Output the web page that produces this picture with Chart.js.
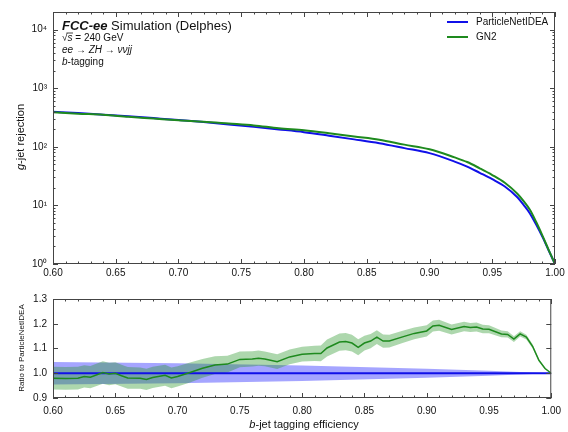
<!DOCTYPE html>
<html>
<head>
<meta charset="utf-8">
<script src="https://cdn.jsdelivr.net/npm/chart.js@4.4.1/dist/chart.umd.min.js"></script>
<style>
  html, body { margin: 0; padding: 0; background: #fff; }
  #wrap { position: relative; width: 568px; height: 432px; }
  canvas { position: absolute; left: 0; }
  #top { top: 0; }
  #bot { top: 285px; }
</style>
</head>
<body>
<div id="wrap">
  <canvas id="top" width="568" height="285"></canvas>
  <canvas id="bot" width="568" height="147"></canvas>
</div>
<script>
// rejection curves (upper panel)
const effTop = [0.60, 0.62, 0.64, 0.66, 0.68, 0.70, 0.72, 0.74, 0.76, 0.78, 0.80, 0.82, 0.84, 0.86,
  0.88, 0.90, 0.92, 0.93, 0.94, 0.95, 0.96, 0.97, 0.975, 0.98, 0.985, 0.99, 0.995, 1.00];
const pnRej = [398, 376, 353, 331, 309, 288, 264, 241, 219, 198, 178, 155, 134, 115,
  95, 78, 56, 46, 36, 28, 21, 13.8, 10.2, 7.3, 4.7, 2.9, 1.7, 1];
const gn2Rej = [390, 368, 353, 325, 304, 284, 269, 250, 232, 207, 192, 171, 150, 132,
  109, 91, 66, 55, 43, 33, 24.3, 15.8, 11.8, 8.4, 5.2, 3.05, 1.73, 1];

// ratio panel
const effRatio = [0.600, 0.610, 0.620, 0.625, 0.630, 0.640, 0.645, 0.650, 0.655, 0.660,
  0.670, 0.675, 0.680, 0.690, 0.695, 0.700, 0.710, 0.720, 0.730, 0.740,
  0.750, 0.760, 0.765, 0.770, 0.780, 0.790, 0.800, 0.810, 0.815, 0.820,
  0.830, 0.835, 0.840, 0.845, 0.850, 0.855, 0.860, 0.865, 0.870, 0.880,
  0.890, 0.900, 0.905, 0.910, 0.920, 0.930, 0.935, 0.940, 0.945, 0.950,
  0.960, 0.965, 0.970, 0.975, 0.980, 0.985, 0.990, 0.995, 1.000];
const gn2Ratio = [0.980, 0.979, 0.980, 0.987, 0.984, 1.003, 0.997, 1.000, 0.990, 0.981,
  0.980, 0.975, 0.983, 0.992, 0.981, 0.987, 1.003, 1.020, 1.033, 1.037,
  1.056, 1.058, 1.061, 1.058, 1.047, 1.066, 1.077, 1.080, 1.080, 1.102,
  1.126, 1.128, 1.122, 1.105, 1.122, 1.130, 1.146, 1.130, 1.130, 1.146,
  1.161, 1.171, 1.191, 1.194, 1.177, 1.189, 1.185, 1.187, 1.179, 1.178,
  1.159, 1.157, 1.138, 1.159, 1.146, 1.109, 1.053, 1.019, 1.000];
const gn2Err = [0.046, 0.046, 0.046, 0.045, 0.045, 0.045, 0.045, 0.044, 0.044, 0.044,
  0.043, 0.043, 0.043, 0.042, 0.042, 0.041, 0.040, 0.038, 0.036, 0.034,
  0.032, 0.031, 0.031, 0.030, 0.030, 0.030, 0.030, 0.031, 0.032, 0.034,
  0.035, 0.035, 0.034, 0.032, 0.030, 0.029, 0.028, 0.027, 0.026, 0.025,
  0.024, 0.023, 0.022, 0.022, 0.020, 0.019, 0.018, 0.018, 0.017, 0.016,
  0.014, 0.013, 0.012, 0.011, 0.010, 0.008, 0.006, 0.003, 0.000];
const effPN = [0.60, 0.70, 0.80, 0.90, 0.95, 1.00];
const pnRatio = [1.0, 1.0, 1.0, 1.0, 1.0, 1.0];
const pnErr = [0.045, 0.040, 0.031, 0.018, 0.010, 0.000];

// ticks
const xTicks = [0.60, 0.65, 0.70, 0.75, 0.80, 0.85, 0.90, 0.95, 1.00];
const xTickLabels = ["0.60", "0.65", "0.70", "0.75", "0.80", "0.85", "0.90", "0.95", "1.00"];
const rejTicks = [1, 10, 100, 1000, 10000];
const rejTickLabels = ["10\u2070", "10\u00b9", "10\u00b2", "10\u00b3", "10\u2074"];
const ratioTicks = [0.9, 1.0, 1.1, 1.2, 1.3];
const ratioTickLabels = ["0.9", "1.0", "1.1", "1.2", "1.3"];

const FONT = "'Liberation Sans', Arial, sans-serif";
const BLUE = "#1010e8";
const GREEN = "#1e8a1e";

function pts(xs, ys) { return xs.map((x, i) => ({ x: x, y: ys[i] })); }

function drawRich(ctx, parts, x, y) {
  parts.forEach(p => {
    ctx.font = p[1];
    ctx.fillText(p[0], x, y);
    x += ctx.measureText(p[0]).width;
  });
  return x;
}

// inward ticks on all four sides + frame, matplotlib style
function frameTicks(yMajor, yMinor) {
  return {
    id: "frameTicks",
    afterDatasetsDraw(chart) {
      const { ctx, chartArea: a, scales } = chart;
      ctx.save();
      ctx.strokeStyle = "#444";
      ctx.lineWidth = 1;
      const seg = (x1, y1, x2, y2) => { ctx.beginPath(); ctx.moveTo(x1, y1); ctx.lineTo(x2, y2); ctx.stroke(); };
      ctx.strokeRect(a.left + 0.5, a.top + 0.5, a.right - a.left - 1, a.bottom - a.top - 1);
      for (let k = 60; k <= 100; k++) {
        const px = Math.round(scales.x.getPixelForValue(k / 100)) + 0.5;
        const len = k % 5 === 0 ? 5 : 2.5;
        seg(px, a.bottom, px, a.bottom - len);
        seg(px, a.top, px, a.top + len);
      }
      const ys = scales.y;
      yMajor.forEach(v => {
        const py = Math.round(ys.getPixelForValue(v)) + 0.5;
        seg(a.left, py, a.left + 5, py);
        seg(a.right, py, a.right - 5, py);
      });
      yMinor.forEach(v => {
        const py = Math.round(ys.getPixelForValue(v)) + 0.5;
        seg(a.left, py, a.left + 2.5, py);
        seg(a.right, py, a.right - 2.5, py);
      });
      ctx.restore();
    }
  };
}

const logMinor = [];
for (let d = 1; d <= 10000; d *= 10) {
  for (let k = 2; k <= 9; k++) if (k * d <= 20000) logMinor.push(k * d);
}

const topDeco = {
  id: "topDeco",
  afterDraw(chart) {
    const ctx = chart.ctx;
    ctx.save();
    ctx.fillStyle = "#111";
    ctx.textBaseline = "middle";
    ctx.textAlign = "left";
    drawRich(ctx, [["FCC-ee", "italic bold 13px " + FONT], [" Simulation (Delphes)", "13px " + FONT]], 62, 26);
    // sqrt(s) line
    ctx.font = "10px " + FONT;
    let x = 62;
    ctx.fillText("\u221a", x, 38);
    x += ctx.measureText("\u221a").width;
    ctx.font = "italic 10px " + FONT;
    const sw = ctx.measureText("s").width;
    ctx.fillText("s", x, 38);
    ctx.strokeStyle = "#111";
    ctx.lineWidth = 0.8;
    ctx.beginPath(); ctx.moveTo(x - 1, 33); ctx.lineTo(x + sw + 0.5, 33); ctx.stroke();
    x += sw;
    ctx.font = "10px " + FONT;
    ctx.fillText(" = 240 GeV", x, 38);
    drawRich(ctx, [["ee", "italic 10px " + FONT], [" \u2192 ", "10px " + FONT], ["ZH", "italic 10px " + FONT],
      [" \u2192 ", "10px " + FONT], ["\u03bd\u03bdjj", "italic 10px " + FONT]], 62, 50);
    drawRich(ctx, [["b", "italic 10px " + FONT], ["-tagging", "10px " + FONT]], 62, 62);

    // legend
    const items = chart.data.datasets;
    items.forEach((ds, i) => {
      const y = 22 + i * 15;
      ctx.strokeStyle = ds.borderColor;
      ctx.lineWidth = 2;
      ctx.beginPath(); ctx.moveTo(447, y); ctx.lineTo(468, y); ctx.stroke();
      ctx.font = "10px " + FONT;
      ctx.fillStyle = "#111";
      ctx.fillText(ds.label, 476, y);
    });

    // y title
    ctx.translate(21, 137);
    ctx.rotate(-Math.PI / 2);
    ctx.textAlign = "left";
    ctx.font = "11px " + FONT;
    const w = ctx.measureText("g").width + ctx.measureText("-jet rejection").width;
    drawRich(ctx, [["g", "italic 11px " + FONT], ["-jet rejection", "11px " + FONT]], -w / 2, 0);
    ctx.restore();
  }
};

const botDeco = {
  id: "botDeco",
  afterDraw(chart) {
    const ctx = chart.ctx;
    ctx.save();
    ctx.fillStyle = "#111";
    ctx.textBaseline = "middle";
    ctx.font = "11px " + FONT;
    const w = ctx.measureText("b").width + ctx.measureText("-jet tagging efficiency").width;
    drawRich(ctx, [["b", "italic 11px " + FONT], ["-jet tagging efficiency", "11px " + FONT]], 304 - w / 2, 140);
    ctx.translate(22, 63);
    ctx.rotate(-Math.PI / 2);
    ctx.textAlign = "center";
    ctx.font = "8px " + FONT;
    ctx.fillText("Ratio to ParticleNetIDEA", 0, 0);
    ctx.restore();
  }
};

const tickFont = { family: FONT, size: 10 };

function xAxis(labelPad, h) {
  return {
    type: "linear", min: 0.6, max: 1.0,
    grid: { display: false, drawTicks: false }, border: { display: false },
    afterBuildTicks: s => { s.ticks = xTicks.map(v => ({ value: v })); },
    afterFit: s => { s.height = h; },
    ticks: { font: tickFont, color: "#111", padding: labelPad, maxRotation: 0, autoSkip: false,
      callback: (v, i) => xTickLabels[i] }
  };
}

new Chart(document.getElementById("top"), {
  type: "line",
  data: {
    datasets: [
      { label: "ParticleNetIDEA", data: pts(effTop, pnRej), borderColor: BLUE, borderWidth: 2,
        pointRadius: 0, cubicInterpolationMode: "monotone", order: 1 },
      { label: "GN2", data: pts(effTop, gn2Rej), borderColor: GREEN, borderWidth: 2,
        pointRadius: 0, cubicInterpolationMode: "monotone", order: 0 }
    ]
  },
  options: {
    responsive: false, animation: false, devicePixelRatio: 1,
    layout: { padding: { left: 0, right: 13, top: 10, bottom: 0 } },
    plugins: { legend: { display: false }, tooltip: { enabled: false } },
    scales: {
      x: xAxis(3, 21),
      y: {
        type: "logarithmic", min: 1, max: 20000,
        grid: { display: false, drawTicks: false }, border: { display: false },
        afterBuildTicks: s => { s.ticks = rejTicks.map(v => ({ value: v })); },
        afterFit: s => { s.width = 53; },
        ticks: { font: tickFont, color: "#111", padding: 6, callback: (v, i) => rejTickLabels[i] }
      }
    }
  },
  plugins: [frameTicks(rejTicks, logMinor), topDeco]
});

new Chart(document.getElementById("bot"), {
  type: "line",
  data: {
    datasets: [
      { label: "pn_hi", data: pts(effPN, pnRatio.map((r, i) => r + pnErr[i])), fill: "+1",
        backgroundColor: "rgba(40,40,255,0.42)", borderWidth: 0, pointRadius: 0, order: 3 },
      { label: "pn_lo", data: pts(effPN, pnRatio.map((r, i) => r - pnErr[i])), fill: false,
        borderWidth: 0, pointRadius: 0, order: 3 },
      { label: "gn2_hi", data: pts(effRatio, gn2Ratio.map((r, i) => r + gn2Err[i])), fill: "+1",
        backgroundColor: "rgba(40,150,40,0.38)", borderWidth: 0, pointRadius: 0, order: 2 },
      { label: "gn2_lo", data: pts(effRatio, gn2Ratio.map((r, i) => r - gn2Err[i])), fill: false,
        borderWidth: 0, pointRadius: 0, order: 2 },
      { label: "ParticleNetIDEA", data: pts(effPN, pnRatio), borderColor: BLUE, borderWidth: 2,
        pointRadius: 0, order: 1 },
      { label: "GN2", data: pts(effRatio, gn2Ratio), borderColor: GREEN, borderWidth: 1.5,
        pointRadius: 0, order: 0 }
    ]
  },
  options: {
    responsive: false, animation: false, devicePixelRatio: 1,
    layout: { padding: { left: 0, right: 13, top: 14, bottom: 0 } },
    plugins: { legend: { display: false }, tooltip: { enabled: false } },
    scales: {
      x: xAxis(7, 34),
      y: {
        type: "linear", min: 0.9, max: 1.3,
        grid: { display: false, drawTicks: false }, border: { display: false },
        afterBuildTicks: s => { s.ticks = ratioTicks.map(v => ({ value: v })); },
        afterFit: s => { s.width = 53; },
        ticks: { font: tickFont, color: "#111", padding: 6, callback: (v, i) => ratioTickLabels[i] }
      }
    }
  },
  plugins: [frameTicks(ratioTicks, []), botDeco]
});
</script>
</body>
</html>
